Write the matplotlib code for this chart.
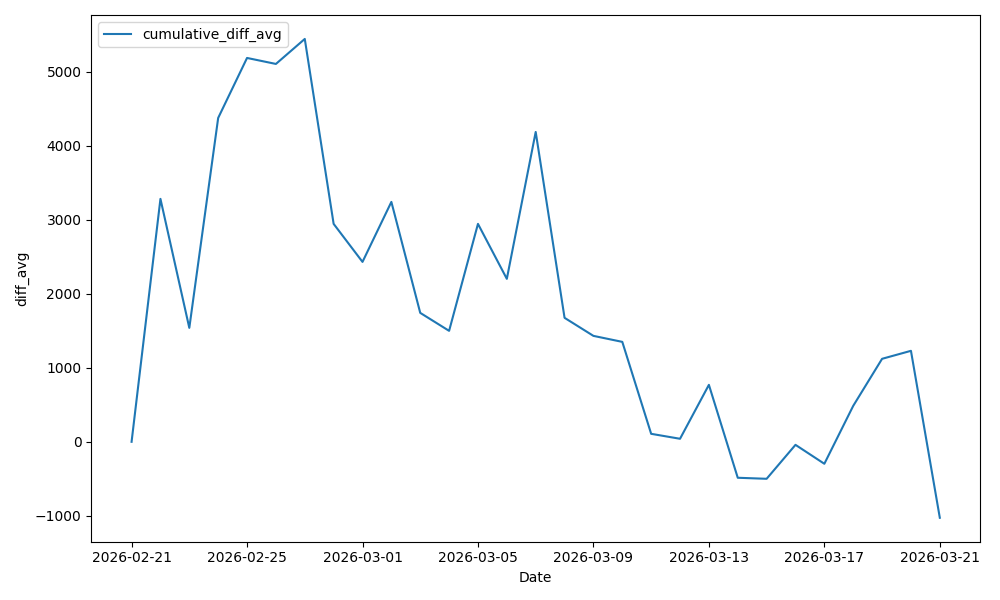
import pandas as pd
import matplotlib
matplotlib.use("Agg")
import matplotlib.pyplot as plt

# values
dates = pd.date_range("2026-02-21", "2026-03-21", freq="D")
diff_avg = [0, 3284, 1540, 4378, 5189, 5108, 5446, 2946, 2432, 3243,
            1743, 1500, 2946, 2203, 4189, 1676, 1432, 1351, 108, 41,
            770, -486, -500, -41, -297, 486, 1122, 1230, -1027]

plt.figure(figsize=(10, 6))
plt.plot(dates, diff_avg, label="cumulative_diff_avg")
plt.xticks(pd.date_range("2026-02-21", "2026-03-21", freq="4D"),
           [d.strftime("%Y-%m-%d") for d in pd.date_range("2026-02-21", "2026-03-21", freq="4D")])
plt.xlabel("Date")
plt.ylabel("diff_avg")
plt.legend(loc="upper left")
plt.tight_layout()
plt.savefig("out.png", dpi=100)
